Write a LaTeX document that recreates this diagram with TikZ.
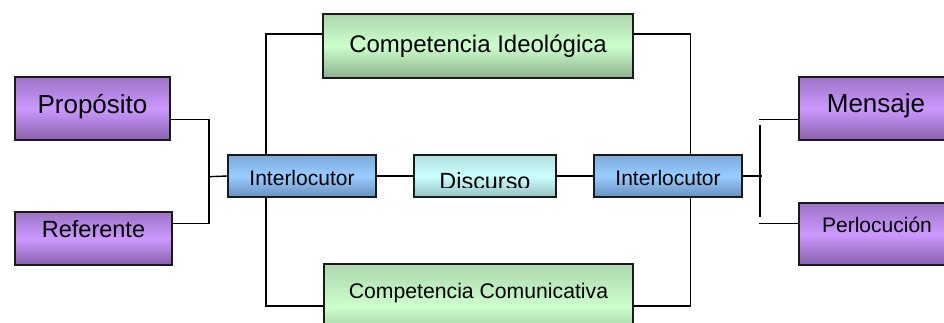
\documentclass[tikz,border=0pt]{standalone}
\usepackage{fontspec}
\setmainfont{Liberation Sans}
\definecolor{bordc}{HTML}{1A1A1A}
\definecolor{purT}{HTML}{9C72C6}
\definecolor{purM}{HTML}{CC99FF}
\definecolor{purB}{HTML}{8860AC}
\definecolor{grnT}{HTML}{AED6AE}
\definecolor{grnM}{HTML}{CCFFCC}
\definecolor{grnB}{HTML}{8EB08E}
\definecolor{bluT}{HTML}{7CAADC}
\definecolor{bluM}{HTML}{99CCFF}
\definecolor{bluB}{HTML}{6890C0}
\definecolor{cyaT}{HTML}{B0E0E0}
\definecolor{cyaM}{HTML}{CCFFFF}
\definecolor{cyaB}{HTML}{96C2C2}
\tikzset{
  boxbase/.style={draw=bordc, line width=1.8pt, inner sep=0pt, rectangle, align=center},
  purbox/.style={boxbase, top color=purT, bottom color=purB, middle color=purM},
  grnbox/.style={boxbase, top color=grnT, bottom color=grnB, middle color=grnM},
  blubox/.style={boxbase, top color=bluT, bottom color=bluB, middle color=bluM},
  cyabox/.style={boxbase, top color=cyaT, bottom color=cyaB, middle color=cyaM},
  conn/.style={draw=black, line width=1.4pt},
}
\begin{document}
\begin{tikzpicture}[x=1pt, y=-1pt]
\path[use as bounding box, clip] (0,0) rectangle (944,322);
\fill[white] (0,0) rectangle (944,322);

\coordinate (lb) at (209,176.7);
\coordinate (rbt) at (760,125);
\coordinate (rbb) at (760,217);
\coordinate (rtick) at (762,176);
\coordinate (rmt) at (759,119.3);
\coordinate (rmb) at (759,223.3);

% boxes
\node[purbox, minimum width=155pt, minimum height=63pt, font=\fontsize{26}{26}\selectfont,
      text height=9pt, text depth=0pt] (prop) at (92.5,108.5) {Propósito};
\node[purbox, minimum width=157pt, minimum height=53pt, font=\fontsize{23.5}{24}\selectfont,
      text height=0pt, text depth=3pt] (ref) at (93.5,238.5) {Referente};
\node[purbox, minimum width=154pt, minimum height=63pt, font=\fontsize{26}{26}\selectfont,
      text height=8.4pt, text depth=0pt] (men) at (876,108.5) {Mensaje};
\node[purbox, minimum width=156pt, minimum height=62pt, font=\fontsize{21}{21}\selectfont,
      text height=0pt, text depth=2.6pt] (perl) at (877,234) {Perlocución};
\node[grnbox, minimum width=310pt, minimum height=64pt, font=\fontsize{24}{24}\selectfont,
      text height=12pt, text depth=0pt] (ci) at (478,46) {Competencia Ideológica};
\node[grnbox, minimum width=309pt, minimum height=84pt, font=\fontsize{21.2}{21}\selectfont,
      text height=0pt, text depth=16pt] (cc) at (478.5,306) {Competencia Comunicativa};
\node[blubox, minimum width=148pt, minimum height=42pt, font=\fontsize{21}{21}\selectfont,
      text height=19pt, text depth=0pt] (li) at (302,176) {Interlocutor};
\node[blubox, minimum width=148pt, minimum height=42pt, font=\fontsize{21}{21}\selectfont,
      text height=19pt, text depth=0pt] (ri) at (668,176) {Interlocutor};
\node[cyabox, minimum width=142pt, minimum height=42pt] (disc) at (485,176) {};
\begin{scope}
  \clip (414,150) rectangle (556,187.5);
  \node[anchor=base, inner sep=0pt, font=\fontsize{23.4}{23}\selectfont] (disct) at (485,189) {Discurso};
\end{scope}

% left bracket
\draw[conn] ([yshift=-10.8pt]prop.east) -| (lb);
\draw[conn] ([yshift=15.2pt]ref.east) -| (lb);
\draw[conn] (lb) -- (li.west);

% center row
\draw[conn] (li.east) -- (disc.west);
\draw[conn] (disc.east) -- (ri.west);

% loops to competencias
\draw[conn] ([xshift=-36pt]li.north) |- ([yshift=12pt]ci.west);
\draw[conn] ([xshift=-36pt]li.south) |- (cc.west);
\draw[conn] ([yshift=12pt]ci.east) -| ([xshift=22.5pt]ri.north);
\draw[conn] (cc.east) -| ([xshift=22.5pt]ri.south);

% right bracket
\draw[conn] (ri.east) -- (rtick);
\draw[conn] (rbt) -- (rbb);
\draw[conn] (rmt) -- ([yshift=-10.8pt]men.west);
\draw[conn] (rmb) -- ([yshift=10.7pt]perl.west);
\end{tikzpicture}
\end{document}
